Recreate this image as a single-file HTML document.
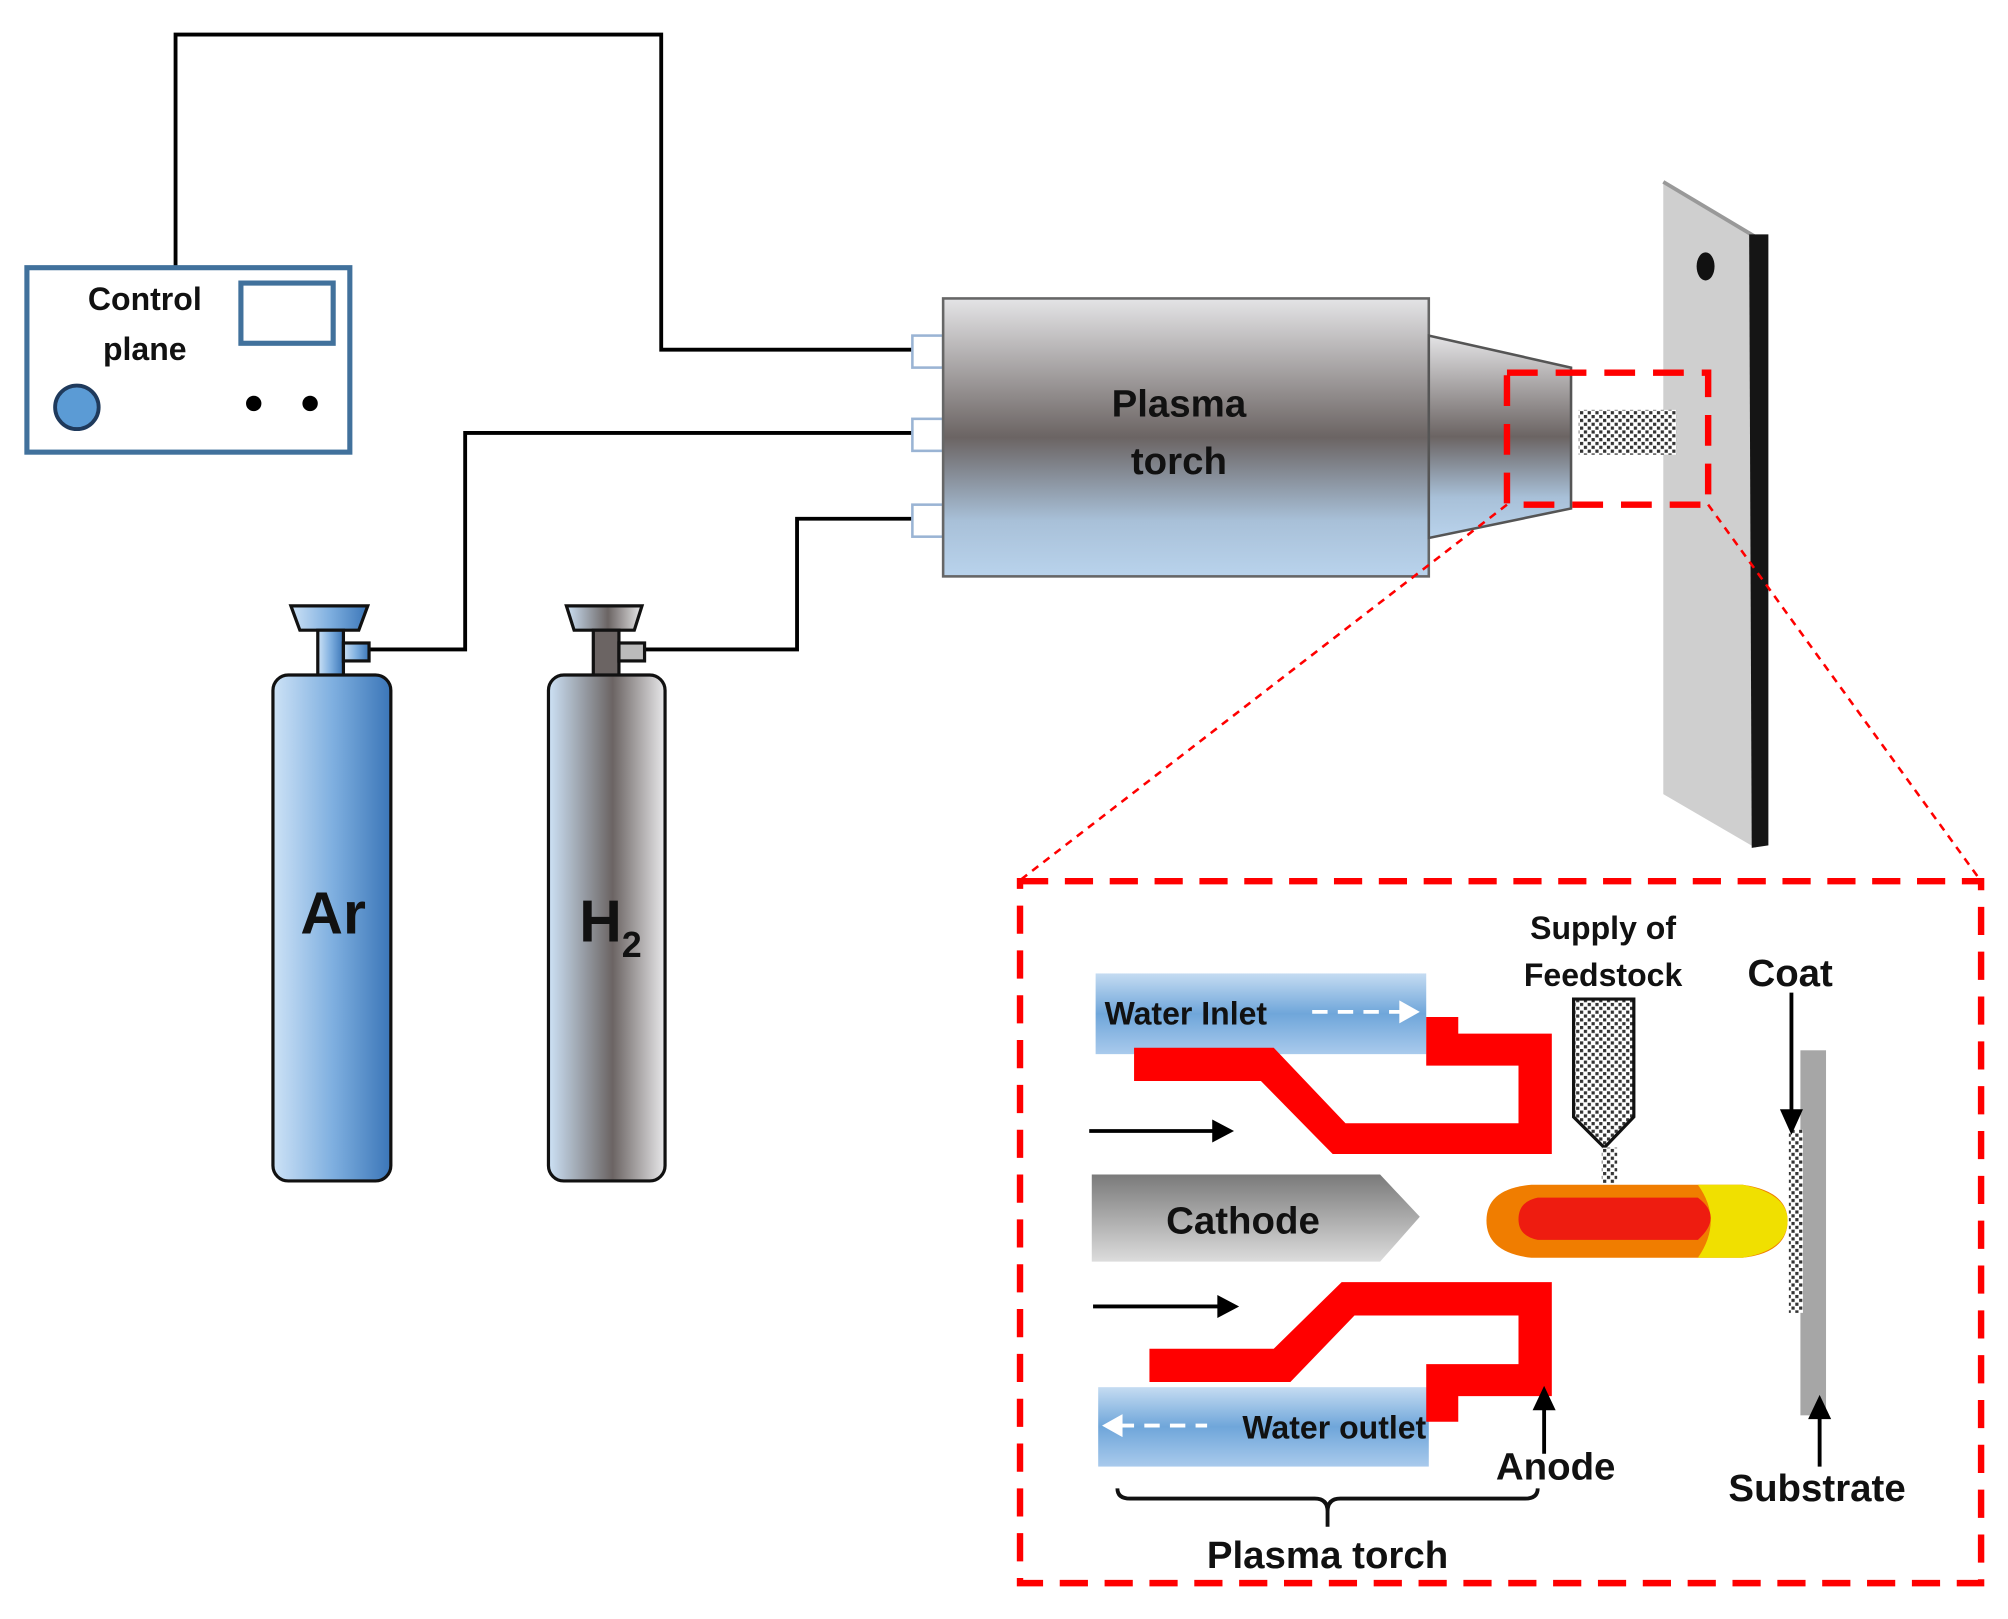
<!DOCTYPE html>
<html><head><meta charset="utf-8"><style>
html,body{margin:0;padding:0;background:#fff;}
svg{display:block;}
text{font-family:"Liberation Sans",sans-serif;font-weight:bold;fill:#111;}
</style></head><body>
<svg width="2008" height="1619" viewBox="0 0 1567 1264" preserveAspectRatio="none" xmlns="http://www.w3.org/2000/svg">
<defs>
<linearGradient id="torch" x1="0" y1="0" x2="0" y2="1">
<stop offset="0" stop-color="#e4e4e6"/><stop offset="0.5" stop-color="#6b6463"/><stop offset="0.8" stop-color="#a8c0d8"/><stop offset="1" stop-color="#b9d3ec"/>
</linearGradient>
<linearGradient id="ar" x1="0" y1="0" x2="1" y2="0">
<stop offset="0" stop-color="#cde2f6"/><stop offset="0.5" stop-color="#80b0e0"/><stop offset="1" stop-color="#3b76b8"/>
</linearGradient>
<linearGradient id="h2" x1="0" y1="0" x2="1" y2="0">
<stop offset="0" stop-color="#cde2f6"/><stop offset="0.55" stop-color="#6b6463"/><stop offset="1" stop-color="#e8e8ea"/>
</linearGradient>
<linearGradient id="water" x1="0" y1="0" x2="0" y2="1">
<stop offset="0" stop-color="#c5dcf2"/><stop offset="0.5" stop-color="#6fa6da"/><stop offset="1" stop-color="#a9caec"/>
</linearGradient>
<linearGradient id="cath" x1="0" y1="0" x2="0" y2="1">
<stop offset="0" stop-color="#7a7a7a"/><stop offset="1" stop-color="#dcdcdc"/>
</linearGradient>
<pattern id="dots" width="6" height="6" patternUnits="userSpaceOnUse">
<rect width="6" height="6" fill="#fff"/><rect x="0" y="0" width="2.5" height="2.5" fill="#333"/><rect x="3" y="3" width="2.5" height="2.5" fill="#333"/>
</pattern>
</defs>

<g fill="none" stroke="#000" stroke-width="3">
<polyline points="137,208 137,27 516,27 516,273 712,273"/>
<polyline points="712,338 363,338 363,507 288,507"/>
<polyline points="712,405 622,405 622,507 503,507"/>
</g>

<rect x="21" y="209" width="252" height="144" fill="#fff" stroke="#41719c" stroke-width="4"/>
<rect x="188" y="221" width="72" height="47" fill="#fff" stroke="#41719c" stroke-width="4"/>
<text x="113" y="242" font-size="25" text-anchor="middle">Control</text>
<text x="113" y="281" font-size="25" text-anchor="middle">plane</text>
<circle cx="60" cy="318" r="17" fill="#5b9bd5" stroke="#1f3a5c" stroke-width="3"/>
<circle cx="198" cy="315" r="6" fill="#000"/><circle cx="242" cy="315" r="6" fill="#000"/>

<g fill="#fff" stroke="#9ab4d4" stroke-width="2">
<rect x="712" y="262" width="24" height="25"/><rect x="712" y="327" width="24" height="25"/><rect x="712" y="394" width="24" height="25"/>
</g>
<rect x="736" y="233" width="379" height="217" fill="url(#torch)" stroke="#666" stroke-width="2"/>
<polygon points="1115,262 1226,287 1226,397 1115,420" fill="url(#torch)" stroke="#555" stroke-width="2"/>
<text x="920" y="325" font-size="30" text-anchor="middle">Plasma</text>
<text x="920" y="370" font-size="30" text-anchor="middle">torch</text>

<polygon points="1298,142 1370,185 1370,662 1298,620" fill="#cfcfcf"/>
<polyline points="1298,142 1370,185" stroke="#999" stroke-width="3" fill="none"/>
<polygon points="1365,183 1380,183 1380,660 1367,662" fill="#151515"/>
<ellipse cx="1331" cy="208" rx="7" ry="11" fill="#111"/>

<rect x="1232" y="320" width="76" height="35" fill="url(#dots)"/>

<rect x="1176" y="291" width="157" height="103" fill="none" stroke="#f00" stroke-width="5" stroke-dasharray="24 14"/>
<g stroke="#f00" stroke-width="2" stroke-dasharray="6 5">
<line x1="1176" y1="394" x2="795" y2="688"/><line x1="1333" y1="394" x2="1546" y2="688"/>
</g>
<rect x="796" y="688" width="750" height="548" fill="none" stroke="#f00" stroke-width="5" stroke-dasharray="22 13"/>

<g stroke="#111" stroke-width="2.5">
<polygon points="227,473 287,473 280,492 234,492" fill="url(#ar)"/>
<rect x="248" y="492" width="20" height="36" fill="url(#ar)"/>
<rect x="268" y="502" width="20" height="14" fill="url(#ar)"/>
<rect x="213" y="527" width="92" height="395" rx="12" fill="url(#ar)"/>
<polygon points="442,473 501,473 495,492 448,492" fill="url(#h2)"/>
<rect x="463" y="492" width="20" height="36" fill="#6b6463"/>
<rect x="483" y="502" width="20" height="14" fill="#bbb"/>
<rect x="428" y="527" width="91" height="395" rx="12" fill="url(#h2)"/>
</g>
<text x="260" y="729" font-size="46" text-anchor="middle">Ar</text>
<text x="452" y="735" font-size="46">H<tspan font-size="28" dy="12">2</tspan></text>

<rect x="855" y="760" width="258" height="63" fill="url(#water)"/>
<rect x="857" y="1083" width="258" height="62" fill="url(#water)"/>
<polygon fill="#f00" points="885,818 994,818 1050,877 1185,877 1185,832 1113,832 1113,794 1138,794 1138,807 1211,807 1211,901 1040,901 984,844 885,844"/>
<polygon fill="#f00" points="1047,1001 1211,1001 1211,1090 1138,1090 1138,1110 1113,1110 1113,1065 1185,1065 1185,1027 1057,1027 1007,1079 897,1079 897,1053 994,1053"/>
<text x="862" y="800" font-size="25">Water Inlet</text>
<line x1="1024" y1="790" x2="1095" y2="790" stroke="#fff" stroke-width="3" stroke-dasharray="12 8"/>
<polygon points="1092,781 1108,790 1092,799" fill="#fff"/>
<text x="1113" y="1123" font-size="25" text-anchor="end">Water outlet</text>
<line x1="873" y1="1113" x2="942" y2="1113" stroke="#fff" stroke-width="3" stroke-dasharray="12 8"/>
<polygon points="876,1104 860,1113 876,1122" fill="#fff"/>

<polygon points="852,917 1077,917 1108,950 1077,985 852,985" fill="url(#cath)"/>
<text x="970" y="963" font-size="30" text-anchor="middle">Cathode</text>

<polygon points="1228,780 1275,780 1275,872 1252,896 1228,872" fill="url(#dots)" stroke="#111" stroke-width="2.5"/>
<rect x="1250" y="896" width="12" height="28" fill="url(#dots)"/>

<path d="M1195,925 L1360,925 Q1395,930 1395,953 Q1395,978 1360,982 L1195,982 Q1160,978 1160,953 Q1160,928 1195,925 Z" fill="#f07d00"/>
<path d="M1325,925 L1360,925 Q1395,932 1395,953 Q1395,976 1360,982 L1325,982 Q1345,953 1325,925 Z" fill="#f0e000"/>
<path d="M1200,935 L1325,935 Q1345,950 1325,968 L1200,968 Q1185,965 1185,952 Q1185,938 1200,935 Z" fill="#ee1c10"/>

<rect x="1405" y="820" width="20" height="285" fill="#a6a6a6"/>
<rect x="1396" y="882" width="11" height="143" fill="url(#dots)"/>

<g stroke="#000" stroke-width="3">
<line x1="850" y1="883" x2="948" y2="883"/><line x1="853" y1="1020" x2="952" y2="1020"/>
<line x1="1398" y1="775" x2="1398" y2="870"/>
<line x1="1420" y1="1145" x2="1420" y2="1105"/>
<line x1="1205" y1="1135" x2="1205" y2="1098"/>
</g>
<polygon points="946,874 963,883 946,892" fill="#000"/>
<polygon points="950,1011 967,1020 950,1029" fill="#000"/>
<polygon points="1389,866 1398,886 1407,866" fill="#000"/>
<polygon points="1411,1108 1420,1089 1429,1108" fill="#000"/>
<polygon points="1196,1101 1205,1082 1214,1101" fill="#000"/>

<text x="1251" y="733" font-size="25" text-anchor="middle">Supply of</text>
<text x="1251" y="770" font-size="25" text-anchor="middle">Feedstock</text>
<text x="1397" y="770" font-size="30" text-anchor="middle">Coat</text>
<text x="1214" y="1155" font-size="30" text-anchor="middle">Anode</text>
<text x="1418" y="1172" font-size="30" text-anchor="middle">Substrate</text>

<path d="M872,1162 Q872,1170 882,1170 L1026,1170 Q1036,1170 1036,1180 L1036,1192 M1036,1180 Q1036,1170 1046,1170 L1190,1170 Q1200,1170 1200,1162" fill="none" stroke="#111" stroke-width="3"/>
<text x="1036" y="1224" font-size="30" text-anchor="middle">Plasma torch</text>
</svg>
</body></html>
